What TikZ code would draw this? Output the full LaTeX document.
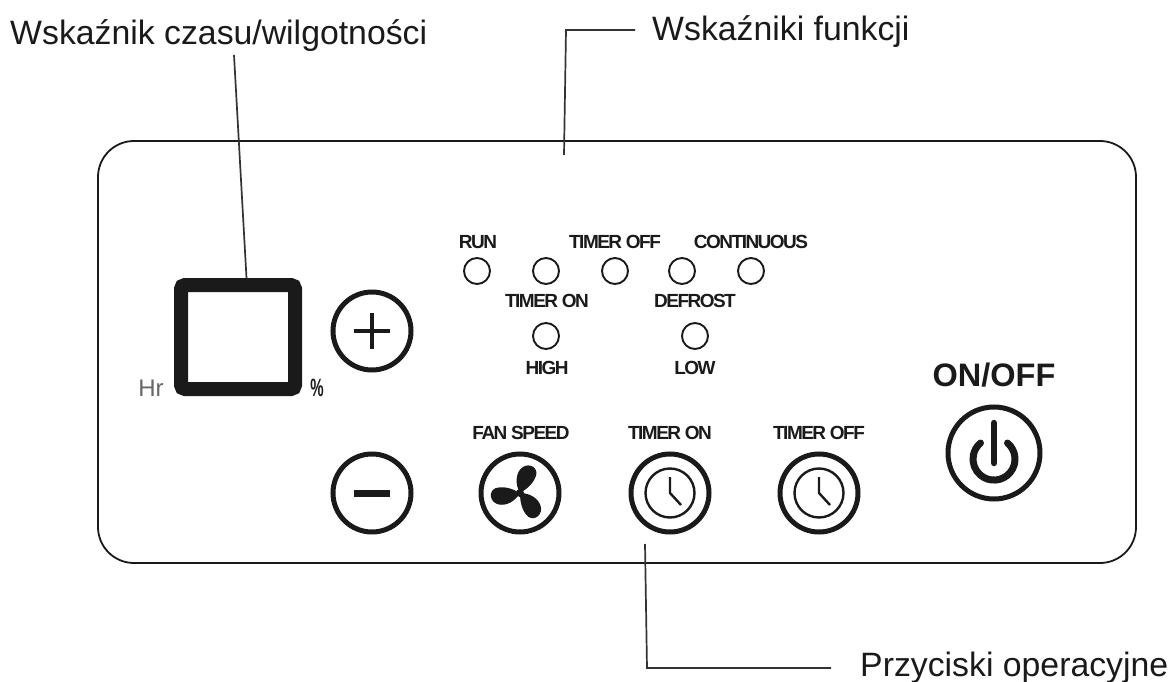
\documentclass[tikz,border=0pt]{standalone}
\usepackage{graphicx}
\usepackage{fontspec}
\setmainfont{Liberation Sans}
\newfontfamily\tightfont[LetterSpace=-8]{Liberation Sans Bold}
\usetikzlibrary{calc}
\definecolor{inkcol}{HTML}{1A1A1A}
\definecolor{leadcol}{HTML}{333333}
\tikzset{
    callout/.style={inner sep=0pt, text=inkcol, font=\fontsize{33.8}{36}\selectfont},
    leader/.style={draw=leadcol, line width=1.7pt},
    tag/.style={inner sep=0pt, text=inkcol, font=\tightfont\fontsize{19}{20}\selectfont},
    lamp/.style={circle, draw=inkcol, line width=1.9pt, minimum size=26pt, inner sep=0pt},
    knob/.style={circle, draw=inkcol, line width=5pt, minimum size=78pt, inner sep=0pt},
    dial/.style={circle, draw=inkcol, line width=2.4pt, minimum size=49pt, inner sep=0pt},
}
\begin{document}
\begin{tikzpicture}[x=1pt,y=-1pt]
    \useasboundingbox (0,0) rectangle (1171,682);
    % panel
    \draw[inkcol, line width=1.8pt, rounded corners=36pt] (98,141) rectangle (1136,563);

    % display
    \node[draw=inkcol, line width=14pt, rounded corners=4pt, minimum width=114pt, minimum height=104pt, inner sep=0pt] (display) at (238,337) {};
    \node[inner sep=0pt, text=black!60, font=\fontsize{24}{26}\selectfont] (hr) at (151,388) {Hr};
    \node[inner sep=0pt, text=inkcol, font=\bfseries\fontsize{25}{26}\selectfont] (percent) at (317,388) {\scalebox{0.6}[1]{\%}};

    % plus and minus
    \node[knob] (plus) at (372,331) {};
    \draw[inkcol, line width=4.5pt] ($(plus)+(-18,0)$)--($(plus)+(18,0)$);
    \draw[inkcol, line width=4.5pt] ($(plus)+(0,-18)$)--($(plus)+(0,18)$);
    \node[knob] (minus) at (372,493) {};
    \draw[inkcol, line width=7pt] ($(minus)+(-18,0)$)--($(minus)+(18,0)$);

    % lamps
    \node[lamp] (run) at (477,271) {};
    \node[lamp] (timeron) at (546,271) {};
    \node[lamp] (timeroff) at (615,271) {};
    \node[lamp] (defrost) at (682,271) {};
    \node[lamp] (continuous) at (751,271) {};
    \node[lamp] (high) at (546,336) {};
    \node[lamp] (low) at (695,336) {};

    \node[tag] (runtag) at (478,242) {RUN};
    \node[tag] (timerofftag) at (615,242) {TIMER OFF};
    \node[tag] (continuoustag) at (751,242) {CONTINUOUS};
    \node[tag] (timerontag) at (547,301) {TIMER ON};
    \node[tag] (defrosttag) at (695,301) {DEFROST};
    \node[tag] (hightag) at (547,368) {HIGH};
    \node[tag] (lowtag) at (695,368) {LOW};

    % fan button
    \node[knob] (fan) at (520,493) {};
    \node[tag] (fantag) at (521,433) {FAN SPEED};
    \foreach \ang in {70,190,310}{
        \begin{scope}[shift={(fan.center)}, rotate=\ang, scale=1.12]
            \fill[inkcol] (0,0) .. controls (6,-7) and (14,-9) .. (20,-7)
                .. controls (28,-4) and (28,6) .. (21,8)
                .. controls (13,9) and (6,5) .. (0,0);
        \end{scope}
    }
    \fill[inkcol] (fan.center) circle (4pt);

    % timer buttons
    \foreach \nm/\xx/\txt in {clockon/670/TIMER ON,clockoff/819/TIMER OFF}{
        \node[knob] (\nm) at (\xx,493) {};
        \node[dial] (\nm dial) at (\xx,493) {};
        \node[tag] (\nm tag) at (\xx,433) {\txt};
        \draw[inkcol, line width=2.4pt] ($(\nm)+(0,-16)$)--(\nm.center)--($(\nm)+(11,12)$);
    }

    % power button
    \node[knob, minimum size=92pt] (power) at (994,453) {};
    \node[inner sep=0pt, text=inkcol, font=\bfseries\fontsize{32.5}{34}\selectfont] (powertag) at (994,375) {ON/OFF};
    \draw[inkcol, line width=7pt, line cap=round] (1007.5,443) arc[start angle=50, end angle=-230, radius=21pt];
    \draw[inkcol, line width=6.5pt, line cap=round] (994,423)--(994,463);

    % callouts
    \node[callout, anchor=west] (timelabel) at (10,36) {Wskaźnik czasu/wilgotności};
    \node[callout, anchor=west] (funclabel) at (652,32) {Wskaźniki funkcji};
    \node[callout, anchor=west] (btnlabel) at (860,668) {Przyciski operacyjne};

    \coordinate (timestart) at (234,55);
    \coordinate (funcstart) at (635,30);
    \coordinate (btnend) at (831,668);
    \draw[leader] (timestart)--(display.north -| 246.5,0);
    \draw[leader] (funcstart)--(566,30)--(564,155);
    \draw[leader] (645,544)--(647,668)--(btnend);
\end{tikzpicture}
\end{document}
